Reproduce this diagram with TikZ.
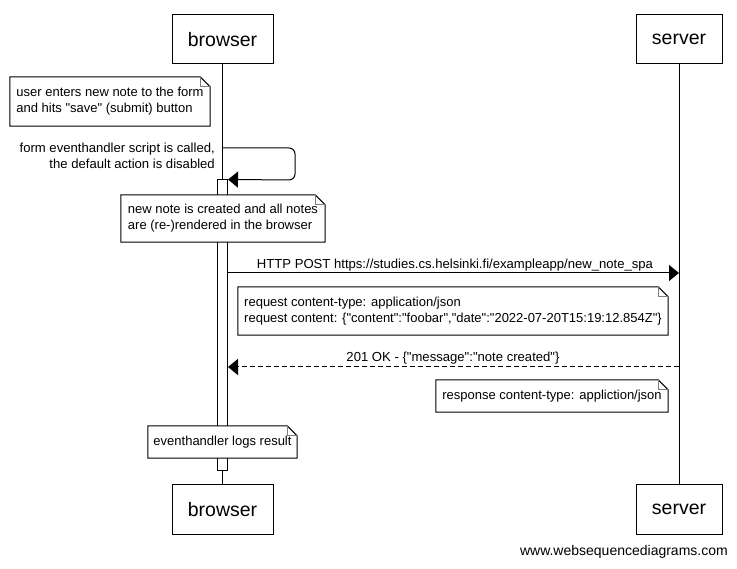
\documentclass[tikz,border=0pt]{standalone}
\usepackage{fontspec}
\setmainfont{Liberation Sans}
% a family without TeX ligatures, so that " stays a straight quote
\newfontfamily\plainsans{Liberation Sans}
\usetikzlibrary{arrows.meta}

% note with a folded top-right corner, drawn around a named node
\newcommand{\foldnote}[1]{%
  \draw[line width=1pt] (#1.north west) -- ([xshift=-10pt]#1.north east)
    -- ([yshift=-10pt]#1.north east) -- (#1.south east) -- (#1.south west) -- cycle;
  \draw[gray, line width=0.8pt] ([xshift=-10pt]#1.north east)
    -- ([xshift=-10pt,yshift=-10pt]#1.north east) -- ([yshift=-10pt]#1.north east);
}

\tikzset{
  party/.style={draw, line width=1pt, fill=white, minimum height=49pt, inner sep=0pt,
    font=\plainsans\fontsize{19.5}{22}\selectfont},
  notebox/.style={fill=white, inner sep=0pt, align=left,
    font=\plainsans\fontsize{13}{16}\selectfont},
  lbl/.style={inner sep=0pt, font=\plainsans\fontsize{13.1}{16}\selectfont},
  lifeline/.style={line width=1pt},
  msg/.style={line width=1pt, -{Triangle[length=10pt,width=16pt]}},
  reply/.style={msg, dash pattern=on 5pt off 3pt},
}

\begin{document}
\begin{tikzpicture}[x=1pt, y=-1pt]
  \fill[white] (0,0) rectangle (737,569);
  \useasboundingbox (0,0) rectangle (737,569);

  % participants
  \node[party, minimum width=101pt] (btop) at (222.5,39.5) {browser};
  \node[party, minimum width=86pt]  (stop) at (679,39.5) {server};
  \node[party, minimum width=101pt] (bbot) at (222.5,509.5) {browser};
  \node[party, minimum width=86pt]  (sbot) at (679,509.5) {server};

  % lifelines
  \draw[lifeline] (btop.south) -- (bbot.north);
  \draw[lifeline] (stop.south) -- (sbot.north);

  % activation of the browser
  \node[draw, line width=1pt, fill=white, minimum width=10pt, minimum height=291pt,
    inner sep=0pt] (act) at (222.5,325.5) {};

  % user action
  \node[notebox, minimum width=200pt, minimum height=49pt] (n1) at (110,101.5)
    {user enters new note to the form\\and hits "save" (submit) button};
  \foldnote{n1}

  % self message
  \coordinate (self0) at (222.5,148);
  \coordinate (self1) at (295,148);
  \coordinate (self2) at (295,180);
  \draw[msg, rounded corners=6pt] (self0) -- (self1) -- (self2) -- (act.north east);
  \node[lbl, anchor=east, align=right] (selflbl) at (215,156)
    {form eventhandler script is called,\\the default action is disabled};

  \node[notebox, minimum width=204pt, minimum height=47pt] (n2) at (223,218.5)
    {new note is created and all notes\\are (re-)rendered in the browser};
  \foldnote{n2}

  % request
  \coordinate (postS) at (679,273);
  \draw[msg] (act.east |- postS) -- (postS);
  \node[lbl] (postlbl) at (455,265)
    {HTTP POST https://studies.cs.helsinki.fi/exampleapp/new\_note\_spa};

  \node[notebox, minimum width=430pt, minimum height=48pt] (n3) at (453,311)
    {request content-type: application/json\\request content: \{"content":"foobar","date":"2022-07-20T15:19:12.854Z"\}};
  \foldnote{n3}

  % response
  \coordinate (respS) at (679,367);
  \draw[reply] (respS) -- (act.east |- respS);
  \node[lbl] (resplbl) at (453,358) {201 OK - \{"message":"note created"\}};

  \node[notebox, minimum width=232pt, minimum height=32pt] (n4) at (552,396)
    {response content-type: appliction/json};
  \foldnote{n4}

  \node[notebox, minimum width=149pt, minimum height=32pt] (n5) at (222.5,442)
    {eventhandler logs result};
  \foldnote{n5}

  % credit
  \node[inner sep=0pt, anchor=east, font=\plainsans\fontsize{14}{16}\selectfont] (credit) at (728,552)
    {www.websequencediagrams.com};
\end{tikzpicture}
\end{document}
